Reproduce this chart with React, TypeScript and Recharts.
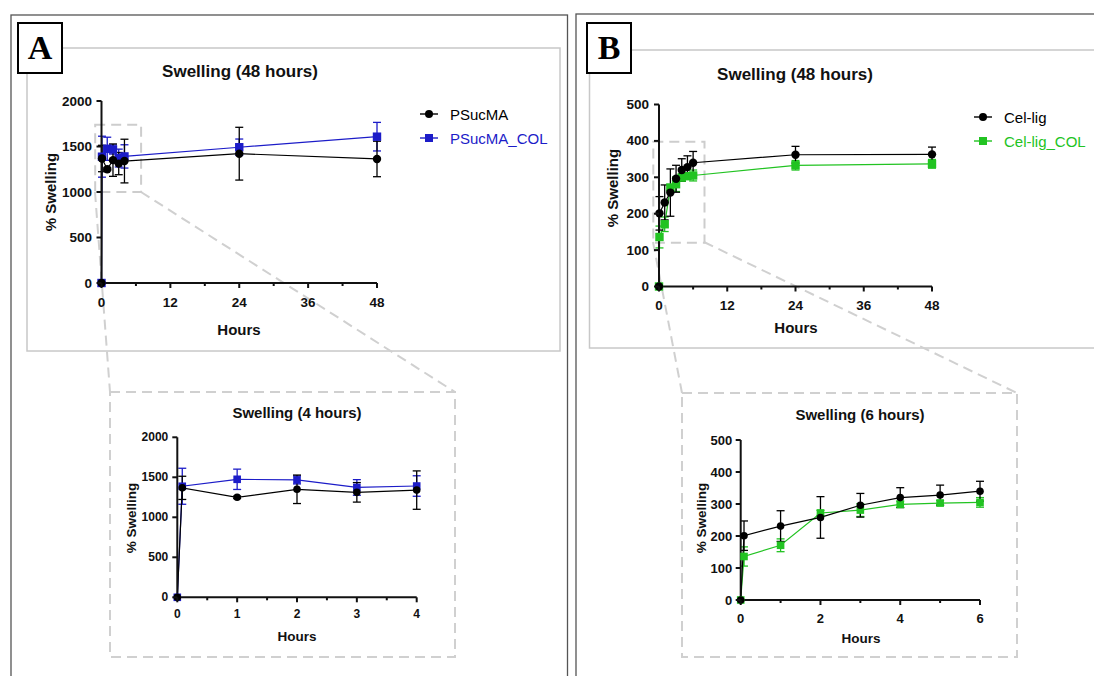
import React from 'react';
import { LineChart, Line, XAxis, YAxis, ErrorBar, ReferenceArea, Legend } from 'recharts';

// Panel A: PSucMA hydrogels (hours, % swelling, SD)
const hoursA = [0, 0.083, 1, 2, 3, 4, 24, 48];
const psucma = [0, 1368, 1250, 1350, 1312, 1340, 1421, 1363];
const psucmaSd = [null, 145, 15, 178, 122, 240, 290, 195];
const psucmaCol = [0, 1388, 1475, 1467, 1373, 1391, 1492, 1608];
const psucmaColSd = [null, 225, 127, 50, 98, 128, 90, 157];

// Panel B: Cel-lig hydrogels
const hoursB = [0, 0.083, 1, 2, 3, 4, 5, 6, 24, 48];
const celLig = [0, 201, 231, 258, 296, 320, 328, 340, 362, 363];
const celLigSd = [null, 46, 48, 65, 37, 31, 31, 31, 23, 20];
const celLigCol = [0, 136, 171, 272, 281, 299, 303, 305, 333, 337];
const celLigColSd = [null, 30, 20, 8, 20, 10, 8, 15, 13, 12];

// axis ticks
const ticks48h = [0, 6, 12, 18, 24, 30, 36, 42, 48];
const ticks4h = [0, 0.5, 1, 1.5, 2, 2.5, 3, 3.5, 4];
const ticks6h = [0, 1, 2, 3, 4, 5, 6];
const yTicksA = [0, 500, 1000, 1500, 2000];
const yTicksB = [0, 100, 200, 300, 400, 500];

const FONT = '"Liberation Sans", Arial, Helvetica, sans-serif';
const BLUE = '#1c1cc8';
const GREEN = '#22c322';
const AXIS = '#111';

const dataA = hoursA.map((h, i) => ({
  h, black: psucma[i], blackSd: psucmaSd[i], col: psucmaCol[i], colSd: psucmaColSd[i],
}));
const dataB = hoursB.map((h, i) => ({
  h, black: celLig[i], blackSd: celLigSd[i], col: celLigCol[i], colSd: celLigColSd[i],
}));

const seriesA = [
  { key: 'black', name: 'PSucMA', color: '#000', shape: 'circle' },
  { key: 'col', name: 'PSucMA_COL', color: BLUE, shape: 'square' },
];
const seriesB = [
  { key: 'black', name: 'Cel-lig', color: '#000', shape: 'circle' },
  { key: 'col', name: 'Cel-lig_COL', color: GREEN, shape: 'square' },
];

const makeDot = (shape: string, color: string, r: number) => (p: any) => {
  const { cx, cy, index } = p;
  if (cx == null || cy == null) return <g key={index} />;
  if (shape === 'circle') return <circle key={index} cx={cx} cy={cy} r={r} fill={color} />;
  return <rect key={index} x={cx - r} y={cy - r} width={2 * r} height={2 * r} fill={color} />;
};

const Marker = ({ shape, color }: any) => (
  <svg width={18} height={12} style={{ display: 'block' }}>
    <line x1={0} y1={6} x2={18} y2={6} stroke={color} strokeWidth={1.4} />
    {shape === 'circle'
      ? <circle cx={9} cy={6} r={4} fill={color} />
      : <rect x={5} y={2} width={8} height={8} fill={color} />}
  </svg>
);

const LegendBox = ({ series }: any) => (
  <div style={{ fontFamily: FONT, fontSize: 15 }}>
    {series.map((s: any) => (
      <div key={s.key} style={{ display: 'flex', alignItems: 'center', height: 24, color: s.color }}>
        <Marker shape={s.shape} color={s.color} />
        <span style={{ marginLeft: 12 }}>{s.name}</span>
      </div>
    ))}
  </div>
);

const Txt = ({ x, y, size, bold = true, rotate = false, children }: any) => (
  <div style={{
    position: 'absolute', left: x, top: y, whiteSpace: 'nowrap', fontFamily: FONT,
    fontSize: size, fontWeight: bold ? 700 : 400, color: '#111', lineHeight: 1,
    transform: `translate(-50%, -50%)${rotate ? ' rotate(-90deg)' : ''}`,
  }}>{children}</div>
);

const SwellChart = ({ cfg }: any) => {
  const { box, plot } = cfg;
  const yW = 40;
  const xH = 30;
  const margin = {
    left: plot.l - box.x - yW,
    top: plot.t - box.y,
    right: box.x + box.w - plot.r,
    bottom: box.y + box.h - plot.b - xH,
  };
  const xTick = (p: any) => {
    const v = p.payload.value;
    const major = cfg.isMajor(v);
    const len = major ? 5 : 3;
    return (
      <g>
        <line x1={p.x} y1={p.y} x2={p.x} y2={p.y + len} stroke={AXIS} strokeWidth={2} />
        {major && (
          <text x={p.x} y={p.y + cfg.xLabOff} textAnchor="middle" dominantBaseline="central"
            fontFamily={FONT} fontWeight={700} fontSize={cfg.tickFont} fill={AXIS}>{v}</text>
        )}
      </g>
    );
  };
  const yTick = (p: any) => (
    <g>
      <line x1={p.x - 5} y1={p.y} x2={p.x} y2={p.y} stroke={AXIS} strokeWidth={2} />
      <text x={p.x - cfg.yLabOff} y={p.y} textAnchor="end" dominantBaseline="central"
        fontFamily={FONT} fontWeight={700} fontSize={cfg.tickFont} fill={AXIS}>{p.payload.value}</text>
    </g>
  );
  // coloured series first so the black markers sit on top
  const drawOrder = [cfg.series[1], cfg.series[0]];
  return (
    <div style={{ position: 'absolute', left: box.x, top: box.y }}>
      <LineChart width={box.w} height={box.h} data={cfg.data} margin={margin}>
        <XAxis type="number" dataKey="h" domain={cfg.xDomain} ticks={cfg.xTicks} interval={0}
          height={xH} axisLine={{ stroke: AXIS, strokeWidth: 2 }} tickLine={false}
          tickSize={0} tickMargin={0} tick={xTick} />
        <YAxis type="number" domain={cfg.yDomain} ticks={cfg.yTicks} interval={0} width={yW}
          axisLine={{ stroke: AXIS, strokeWidth: 2 }} tickLine={false}
          tickSize={0} tickMargin={0} tick={yTick} />
        {cfg.zoom && (
          <ReferenceArea x1={cfg.zoom.x1} x2={cfg.zoom.x2} y1={cfg.zoom.y1} y2={cfg.zoom.y2}
            fill="none" fillOpacity={0} stroke="#cdcdcd" strokeWidth={2} strokeDasharray="10 6"
            ifOverflow="visible" />
        )}
        {drawOrder.map((s: any) => (
          <Line key={s.key} type="linear" dataKey={s.key} stroke={s.color} strokeWidth={1.2}
            dot={makeDot(s.shape, s.color, cfg.dotR)} activeDot={false} isAnimationActive={false}>
            <ErrorBar dataKey={`${s.key}Sd`} direction="y" width={4} stroke={s.color}
              strokeWidth={1.3} isAnimationActive={false} />
          </Line>
        ))}
        {cfg.legend && (
          <Legend layout="vertical" align="center" verticalAlign="middle"
            wrapperStyle={{ left: cfg.legend.x - box.x, top: cfg.legend.y - box.y, width: 'auto' }}
            content={() => <LegendBox series={cfg.series} />} />
        )}
      </LineChart>
    </div>
  );
};

const mainA = {
  data: dataA, series: seriesA,
  box: { x: 28, y: 49, w: 531, h: 301 }, plot: { l: 101.5, r: 377, t: 101, b: 283 },
  xDomain: [0, 48], xTicks: ticks48h, isMajor: (v: number) => v % 12 === 0,
  yDomain: [0, 2000], yTicks: yTicksA, tickFont: 13.5, xLabOff: 19, yLabOff: 9.5, dotR: 4.2,
  zoom: { x1: -1.1, x2: 6.9, y1: 1000, y2: 1740 }, legend: { x: 420, y: 102 },
};
const insetA = {
  data: dataA.filter((d) => d.h <= 4), series: seriesA,
  box: { x: 112, y: 394, w: 342, h: 262 }, plot: { l: 177.3, r: 416.7, t: 437.3, b: 597.3 },
  xDomain: [0, 4], xTicks: ticks4h, isMajor: (v: number) => Number.isInteger(v),
  yDomain: [0, 2000], yTicks: yTicksA, tickFont: 12, xLabOff: 16.5, yLabOff: 9, dotR: 3.8,
};
const mainB = {
  data: dataB, series: seriesB,
  box: { x: 591, y: 51, w: 502, h: 296 }, plot: { l: 659, r: 932, t: 104.5, b: 286.5 },
  xDomain: [0, 48], xTicks: ticks48h, isMajor: (v: number) => v % 12 === 0,
  yDomain: [0, 500], yTicks: yTicksB, tickFont: 13.5, xLabOff: 19, yLabOff: 10, dotR: 4.2,
  zoom: { x1: -1, x2: 8, y1: 120, y2: 398 }, legend: { x: 974, y: 105 },
};
const insetB = {
  data: dataB.filter((d) => d.h <= 6), series: seriesB,
  box: { x: 684, y: 395, w: 332, h: 261 }, plot: { l: 740.7, r: 980, t: 440, b: 600 },
  xDomain: [0, 6], xTicks: ticks6h, isMajor: (v: number) => v % 2 === 0,
  yDomain: [0, 500], yTicks: yTicksB, tickFont: 13, xLabOff: 18, yLabOff: 8.5, dotR: 3.8,
};

const PanelLetter = ({ x, y, children }: any) => (
  <div style={{
    position: 'absolute', left: x, top: y, width: 42, height: 48, border: '2px solid #000',
    background: '#fff', display: 'flex', alignItems: 'center', justifyContent: 'center',
    fontFamily: '"Liberation Serif", "Times New Roman", serif', fontWeight: 700, fontSize: 34,
  }}>{children}</div>
);

export default function App() {
  return (
    <div style={{ position: 'absolute', left: 0, top: 0, width: 1094, height: 676, overflow: 'hidden', background: '#fff', fontFamily: FONT }}>
      {/* frames, inset boxes and zoom connectors */}
      <svg width={1094} height={676} style={{ position: 'absolute', left: 0, top: 0 }}>
        <rect x={11} y={15} width={556.5} height={700} fill="none" stroke="#555" strokeWidth={1.3} />
        <rect x={576} y={14} width={560} height={700} fill="none" stroke="#555" strokeWidth={1.3} />
        <rect x={27} y={48} width={533} height={303} fill="none" stroke="#c8c8c8" strokeWidth={1.5} />
        <rect x={589.5} y={50} width={560} height={298} fill="none" stroke="#c8c8c8" strokeWidth={1.5} />
        <g stroke="#d0d0d0" strokeWidth={2} strokeDasharray="10 6" fill="none">
          <rect x={110} y={392} width={345} height={265} />
          <rect x={682} y={393} width={335} height={264} />
          <line x1={95} y1={192} x2={110} y2={392} />
          <line x1={141} y1={192} x2={455} y2={392} />
          <line x1={653} y1={242} x2={682} y2={393} />
          <line x1={704} y1={242} x2={1017} y2={393} />
        </g>
      </svg>
      <PanelLetter x={17} y={22}>A</PanelLetter>
      <PanelLetter x={586} y={22}>B</PanelLetter>

      <SwellChart cfg={mainA} />
      <SwellChart cfg={insetA} />
      <SwellChart cfg={mainB} />
      <SwellChart cfg={insetB} />

      <Txt x={240} y={71} size={17}>Swelling (48 hours)</Txt>
      <Txt x={50} y={192} size={15} rotate>% Swelling</Txt>
      <Txt x={239} y={329} size={15}>Hours</Txt>

      <Txt x={795} y={74} size={17}>Swelling (48 hours)</Txt>
      <Txt x={612} y={188} size={15} rotate>% Swelling</Txt>
      <Txt x={796} y={327} size={15}>Hours</Txt>

      <Txt x={297} y={412} size={15}>Swelling (4 hours)</Txt>
      <Txt x={132} y={518} size={13.5} rotate>% Swelling</Txt>
      <Txt x={297} y={637} size={13.5}>Hours</Txt>

      <Txt x={860} y={414} size={15}>Swelling (6 hours)</Txt>
      <Txt x={702} y={518} size={13.5} rotate>% Swelling</Txt>
      <Txt x={861} y={639} size={13.5}>Hours</Txt>
    </div>
  );
}
